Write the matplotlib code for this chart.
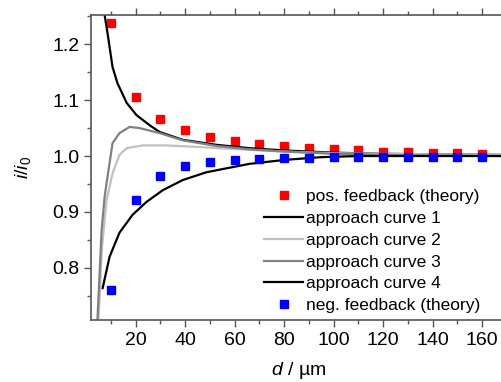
import numpy as np
import matplotlib
matplotlib.use("Agg")
import matplotlib.pyplot as plt
from matplotlib.ticker import MultipleLocator

plt.rcParams['font.family'] = ['Liberation Sans', 'DejaVu Sans']
plt.rcParams['mathtext.fontset'] = 'custom'
plt.rcParams['mathtext.rm'] = 'Liberation Sans'
plt.rcParams['mathtext.it'] = 'Liberation Sans:italic'

# theory points
d_theory = [10, 20, 30, 40, 50, 60, 70, 80, 90, 100, 110, 120, 130, 140, 150, 160]
pos_fb = [1.238, 1.105, 1.066, 1.046, 1.034, 1.027, 1.021, 1.018, 1.014, 1.012,
          1.010, 1.008, 1.007, 1.006, 1.005, 1.004]
neg_fb = [0.761, 0.921, 0.964, 0.982, 0.989, 0.993, 0.995, 0.996, 0.997, 0.998,
          0.998, 0.999, 0.999, 0.999, 0.999, 0.999]

# approach curves
d1 = [7.5, 8.7, 10.7, 12.7, 16.4, 20.4, 25.7, 29.7, 39, 52.7, 66, 80, 100, 120, 140, 170]
c1 = [1.252, 1.219, 1.159, 1.130, 1.095, 1.073, 1.055, 1.043, 1.029, 1.020, 1.014,
      1.010, 1.006, 1.004, 1.003, 1.002]

d2 = [5.0, 6.5, 8.3, 10.7, 13.5, 16.4, 23, 32.4, 46, 66, 80, 100, 120, 140, 170]
c2 = [0.707, 0.840, 0.921, 0.969, 1.002, 1.014, 1.019, 1.019, 1.016, 1.011, 1.008,
      1.005, 1.004, 1.003, 1.002]

d3 = [4.6, 6.3, 7.5, 8.3, 10.7, 13.5, 17.6, 21.6, 29.7, 39, 52.7, 66, 80, 100, 120, 140, 170]
c3 = [0.707, 0.868, 0.927, 0.952, 1.023, 1.041, 1.052, 1.050, 1.041, 1.028, 1.018,
      1.012, 1.008, 1.004, 1.002, 1.001, 1.000]

d4 = [6.7, 9.5, 13.5, 18.8, 24.4, 31, 39, 48.6, 59, 66, 80, 95, 110, 130, 150, 170]
c4 = [0.764, 0.820, 0.863, 0.895, 0.918, 0.939, 0.957, 0.971, 0.980, 0.986, 0.993,
      0.998, 1.000, 1.000, 1.000, 1.000]

fig = plt.figure(figsize=(5.01, 3.82), dpi=100)
ax = fig.add_axes([91 / 501, 62 / 382, 416 / 501, 305 / 382])

ax.plot(d_theory, pos_fb, 's', color='#ff0000', ms=6, label='pos. feedback (theory)')
ax.plot(d1, c1, color='black', lw=1.6, label='approach curve 1')
ax.plot(d2, c2, color='#c0c0c0', lw=1.6, label='approach curve 2')
ax.plot(d3, c3, color='#808080', lw=1.6, label='approach curve 3')
ax.plot(d4, c4, color='black', lw=1.6, label='approach curve 4')
ax.plot(d_theory, neg_fb, 's', color='#0000ff', ms=6, label='neg. feedback (theory)')

ax.set_xlim(2, 170)
ax.set_ylim(0.707, 1.252)
ax.xaxis.set_major_locator(MultipleLocator(20))
ax.xaxis.set_minor_locator(MultipleLocator(10))
ax.yaxis.set_minor_locator(MultipleLocator(0.05))
ax.set_yticks([0.8, 0.9, 1.0, 1.1, 1.2])
ax.set_yticklabels(['0.8', '0.9', '1.0', '1.1', '1.2'])

for s in ['left', 'bottom', 'top']:
    ax.spines[s].set_color('#555555')
    ax.spines[s].set_linewidth(1.2)
ax.spines['right'].set_visible(False)
ax.tick_params(which='major', direction='out', length=5, width=1, color='#555555',
               labelsize=14, top=True)
ax.tick_params(which='minor', direction='out', length=3, width=1, color='#555555', top=True)
ax.tick_params(axis='x', which='both', labeltop=False)

ax.set_xlabel(r'$d$ / µm', fontsize=14, labelpad=8)
ax.set_ylabel(r'$i/i_0$', fontsize=14, labelpad=14)

ax.legend(loc='lower right', bbox_to_anchor=(0.961, -0.012), frameon=False, fontsize=12.5,
          handlelength=2.2, handletextpad=0.2, labelspacing=0.38, borderaxespad=0.2)

fig.savefig('out.png', dpi=100)
